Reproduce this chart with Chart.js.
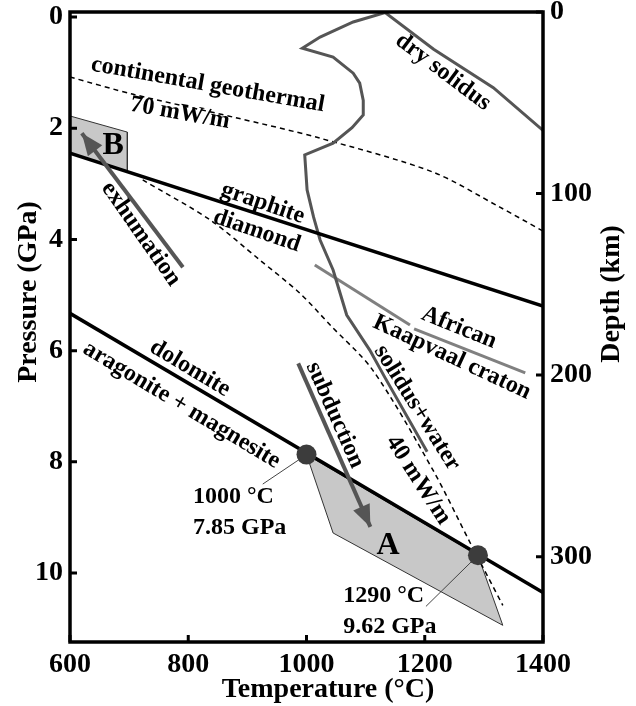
<!DOCTYPE html>
<html lang="en">
<head>
<meta charset="UTF-8">
<title>Carbonate stability and geotherms</title>
<script src="https://cdn.jsdelivr.net/npm/chart.js"></script>
<style>
    body { margin: 0; background: white; }
    .wrap { width: 636px; height: 706px; position: relative; }
</style>
</head>
<body>
<div class="wrap"><canvas id="phaseChart"></canvas></div>
<script>
// axis ticks
const tempTicks = [600, 800, 1000, 1200, 1400];
const pressureTicks = [0, 2, 4, 6, 8, 10];
const depthTicks = [0, 100, 200, 300];

// curves, temperature (C) vs pressure (GPa)
const graphiteT = [600, 1400];
const graphiteP = [2.45, 5.2];
const dolomiteT = [600, 1400];
const dolomiteP = [5.33, 10.35];
const geotherm70T = [600, 707, 876, 1023, 1214, 1327, 1400];
const geotherm70P = [1.08, 1.39, 1.80, 2.18, 2.79, 3.42, 3.85];
const geotherm40T = [723, 837, 921, 989, 1040, 1112, 1214, 1277, 1332];
const geotherm40P = [2.93, 3.65, 4.37, 4.97, 5.54, 6.35, 8.15, 9.46, 10.58];
const drySolidusT = [1133, 1215, 1316, 1400];
const drySolidusP = [-0.08, 0.58, 1.27, 2.04];
const wetSolidusT = [1133, 1079, 1023, 993, 1045, 1079, 1090, 1096, 1096, 1077, 1045, 997, 1001, 1012, 1023, 1045, 1068, 1107, 1133, 1204];
const wetSolidusP = [-0.08, 0.09, 0.36, 0.56, 0.72, 1.01, 1.19, 1.5, 1.76, 1.99, 2.27, 2.48, 3.11, 3.6, 4.01, 4.55, 5.36, 5.99, 6.49, 7.82];
const cratonAT = [1014, 1175];
const cratonAP = [4.46, 5.54];
const cratonBT = [1182, 1370];
const cratonBP = [5.61, 6.40];

// fields and paths
const fieldAT = [1000, 1290, 1332, 1045, 1000];
const fieldAP = [7.87, 9.68, 10.94, 9.28, 7.87];
const fieldBT = [600, 697, 697, 600, 600];
const fieldBP = [1.78, 2.07, 2.77, 2.45, 1.78];
const exhumationT = [791, 620];
const exhumationP = [4.5, 2.09];
const subductionT = [986, 1108];
const subductionP = [6.23, 9.17];
const markerT = [1000, 1290];
const markerP = [7.87, 9.68];
const leaderAT = [926, 1000];
const leaderAP = [8.40, 7.87];
const leaderBT = [1202, 1290];
const leaderBP = [10.6, 9.68];

const pts = (t, p) => t.map((v, i) => ({ x: v, y: p[i] }));

const serif = 'Liberation Serif';
const lineGrey = '#555555';

// text annotations placed in data coordinates
const notes = [
    { text: 'continental geothermal', t: 833, p: 1.22, rot: 10 },
    { text: '70 mW/m', t: 786, p: 1.73, rot: 10 },
    { text: 'dry solidus', t: 1231, p: 0.99, rot: 37 },
    { text: 'graphite', t: 926, p: 3.35, rot: 19 },
    { text: 'diamond', t: 916, p: 3.85, rot: 19 },
    { text: 'exhumation', t: 720, p: 3.90, rot: 55 },
    { text: 'dolomite', t: 803, p: 6.32, rot: 31 },
    { text: 'aragonite + magnesite', t: 789, p: 6.98, rot: 31 },
    { text: '1000 °C', t: 808, p: 8.62, rot: 0, align: 'left' },
    { text: '7.85 GPa', t: 808, p: 9.19, rot: 0, align: 'left' },
    { text: '1290 °C', t: 1062, p: 10.41, rot: 0, align: 'left' },
    { text: '9.62 GPa', t: 1062, p: 10.97, rot: 0, align: 'left' },
    { text: 'A', t: 1138, p: 9.5, rot: 0, size: 32 },
    { text: 'B', t: 673, p: 2.32, rot: 0, size: 32 },
    { text: 'subduction', t: 1048, p: 7.16, rot: 66 },
    { text: 'solidus+water', t: 1187, p: 7.03, rot: 58 },
    { text: '40 mW/m', t: 1189, p: 8.33, rot: 57 },
    { text: 'African', t: 1258, p: 5.59, rot: 22 },
    { text: 'Kaapvaal craton', t: 1246, p: 6.12, rot: 25 }
];

function line(t, p, color, width, extra) {
    return Object.assign({
        data: pts(t, p),
        showLine: true,
        borderColor: color,
        borderWidth: width,
        pointRadius: 0,
        fill: false,
        tension: 0
    }, extra || {});
}

const datasets = [
    line(markerT, markerP, '#3c3c3c', 0, { showLine: false, pointRadius: 10, backgroundColor: '#3c3c3c', pointBorderWidth: 0 }),
    line(exhumationT, exhumationP, lineGrey, 4, { arrow: true }),
    line(subductionT, subductionP, lineGrey, 4, { arrow: true }),
    line(leaderAT, leaderAP, '#444444', 1),
    line(leaderBT, leaderBP, '#444444', 1),
    line(graphiteT, graphiteP, '#000000', 3.5),
    line(dolomiteT, dolomiteP, '#000000', 3.5),
    line(drySolidusT, drySolidusP, lineGrey, 3),
    line(wetSolidusT, wetSolidusP, lineGrey, 3),
    line(cratonAT, cratonAP, '#808080', 3),
    line(cratonBT, cratonBP, '#808080', 3),
    line(geotherm70T, geotherm70P, '#000000', 1.5, { borderDash: [5, 4], tension: 0.3 }),
    line(geotherm40T, geotherm40P, '#000000', 1.5, { borderDash: [5, 4], tension: 0.3 }),
    line(fieldAT, fieldAP, '#333333', 1, { fill: 'shape', backgroundColor: '#c8c8c8' }),
    line(fieldBT, fieldBP, '#333333', 1, { fill: 'shape', backgroundColor: '#c8c8c8' })
];

const arrowHeads = {
    id: 'arrowHeads',
    afterDatasetsDraw(chart) {
        const ctx = chart.ctx;
        chart.data.datasets.forEach((ds, i) => {
            if (!ds.arrow) return;
            const el = chart.getDatasetMeta(i).data;
            const a = el[el.length - 2], b = el[el.length - 1];
            const ang = Math.atan2(b.y - a.y, b.x - a.x);
            ctx.save();
            ctx.translate(b.x, b.y);
            ctx.rotate(ang);
            ctx.beginPath();
            ctx.moveTo(0, 0);
            ctx.lineTo(-22, -9);
            ctx.lineTo(-22, 9);
            ctx.closePath();
            ctx.fillStyle = ds.borderColor;
            ctx.fill();
            ctx.restore();
        });
    }
};

const textNotes = {
    id: 'textNotes',
    afterDatasetsDraw(chart) {
        const ctx = chart.ctx;
        const xs = chart.scales.x, ys = chart.scales.y;
        notes.forEach(n => {
            ctx.save();
            ctx.translate(xs.getPixelForValue(n.t), ys.getPixelForValue(n.p));
            ctx.rotate((n.rot || 0) * Math.PI / 180);
            ctx.font = 'bold ' + (n.size || 24) + 'px "' + serif + '"';
            ctx.fillStyle = '#000';
            ctx.textAlign = n.align || 'center';
            ctx.textBaseline = 'middle';
            ctx.fillText(n.text, 0, 0);
            ctx.restore();
        });
    }
};

const frame = {
    id: 'frame',
    afterDraw(chart) {
        const ctx = chart.ctx;
        const a = chart.chartArea;
        const xs = chart.scales.x, ys = chart.scales.y, ds = chart.scales.y2;
        ctx.save();
        ctx.strokeStyle = '#000';
        ctx.lineWidth = 3.5;
        ctx.strokeRect(a.left, a.top, a.right - a.left, a.bottom - a.top);
        ctx.lineWidth = 3;
        ctx.beginPath();
        tempTicks.forEach(v => {
            const x = xs.getPixelForValue(v);
            ctx.moveTo(x, a.bottom); ctx.lineTo(x, a.bottom - 7);
        });
        pressureTicks.forEach(v => {
            const y = ys.getPixelForValue(v);
            ctx.moveTo(a.left, y); ctx.lineTo(a.left + 7, y);
        });
        depthTicks.forEach(v => {
            const y = ds.getPixelForValue(v);
            ctx.moveTo(a.right, y); ctx.lineTo(a.right - 7, y);
        });
        ctx.stroke();

        // axis titles
        ctx.fillStyle = '#000';
        ctx.font = 'bold 28px "' + serif + '"';
        ctx.textAlign = 'center';
        ctx.textBaseline = 'middle';
        ctx.fillText('Temperature (°C)', 328, 690);
        ctx.save();
        ctx.translate(29, 292);
        ctx.rotate(-Math.PI / 2);
        ctx.fillText('Pressure (GPa)', 0, 0);
        ctx.restore();
        ctx.save();
        ctx.translate(612, 294);
        ctx.rotate(-Math.PI / 2);
        ctx.fillText('Depth (km)', 0, 0);
        ctx.restore();
        ctx.restore();
    }
};

const noPad = s => { s.paddingTop = 0; s.paddingBottom = 0; s.paddingLeft = 0; s.paddingRight = 0; };
const tickFont = { family: serif, size: 28, weight: 'bold' };
const plain = v => String(v);

new Chart(document.getElementById('phaseChart'), {
    type: 'scatter',
    data: { datasets },
    options: {
        responsive: true,
        maintainAspectRatio: false,
        animation: false,
        layout: { padding: { top: 12 } },
        plugins: { legend: { display: false }, tooltip: { enabled: false } },
        scales: {
            x: {
                type: 'linear', min: 600, max: 1400,
                grid: { display: false, drawTicks: false }, border: { display: false },
                ticks: { font: tickFont, color: '#000', padding: 6, maxRotation: 0, autoSkip: false, callback: plain },
                afterBuildTicks: s => { s.ticks = tempTicks.map(v => ({ value: v })); },
                afterFit: s => { s.height = 64; noPad(s); }
            },
            y: {
                type: 'linear', position: 'left', reverse: true, min: -0.09, max: 11.24,
                grid: { display: false, drawTicks: false }, border: { display: false },
                ticks: { font: tickFont, color: '#000', padding: 7, autoSkip: false, callback: plain },
                afterBuildTicks: s => { s.ticks = pressureTicks.map(v => ({ value: v })); },
                afterFit: s => { s.width = 70; noPad(s); }
            },
            y2: {
                type: 'linear', position: 'right', reverse: true, min: 0, max: 347,
                grid: { display: false, drawTicks: false }, border: { display: false },
                ticks: { font: tickFont, color: '#000', padding: 7, autoSkip: false, callback: plain },
                afterBuildTicks: s => { s.ticks = depthTicks.map(v => ({ value: v })); },
                afterFit: s => { s.width = 93; noPad(s); }
            }
        }
    },
    plugins: [arrowHeads, textNotes, frame]
});
</script>
</body>
</html>
